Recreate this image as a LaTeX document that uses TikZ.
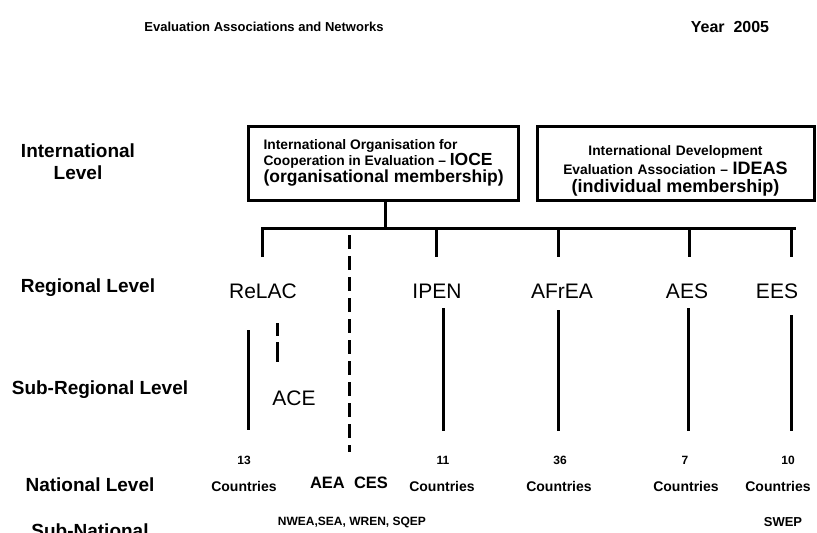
\documentclass[tikz,border=0pt]{standalone}
\usepackage{fontspec}
\setmainfont{Liberation Sans}
\usetikzlibrary{positioning}
\tikzset{
  line/.style={line width=3pt},
  dline/.style={line width=3pt,dash pattern=on 14pt off 7pt},
}
\lineskiplimit=-20pt\relax

\begin{document}
\begin{tikzpicture}[x=1pt,y=-1pt,
    lvl/.style={font=\fontsize{19}{22}\selectfont\bfseries,align=center},
    reg/.style={font=\fontsize{21}{24}\selectfont},
    cnt/.style={font=\fontsize{14}{16}\selectfont\bfseries},
    num/.style={font=\fontsize{12}{14}\selectfont\bfseries},
    orgbox/.style={draw,line width=3pt,rectangle,minimum height=74pt,inner ysep=0pt}]

    \useasboundingbox (0,0) rectangle (817,533);

    % titles
    \node[font=\fontsize{13}{15}\selectfont\bfseries] (title) at (264,27) {Evaluation Associations and Networks};
    \node[font=\fontsize{16}{18}\selectfont\bfseries] (year) at (730,27) {Year\ \ 2005};

    % levels
    \node[lvl] (lvl0) at (78,162) {International\\Level};
    \node[lvl] (lvl1) at (88,288) {Regional Level};
    \node[lvl] (lvl2) at (100,390) {Sub-Regional Level};
    \node[lvl] (lvl3) at (90,485) {National Level};
    \node[lvl] (lvl4) at (90,531) {Sub-National};

    % international bodies
    \node[orgbox,anchor=west,inner xsep=15pt,align=left,text depth=5pt,
      font=\fontsize{13.8}{16.5}\selectfont\bfseries] (org0) at (247,163)
      {International Organisation for\\Cooperation in Evaluation -- {\fontsize{17.5}{16.5}\selectfont IOCE}\\{\fontsize{17.5}{16.5}\selectfont (organisational membership)}};
    \node[orgbox,minimum width=277pt,text width=260pt,align=center,text depth=26pt,
      font=\fontsize{13.8}{18.5}\selectfont\bfseries] (org1) at (675.5,163.5)
      {International Development\\Evaluation Association -- {\fontsize{18}{18.5}\selectfont IDEAS}\\{\fontsize{18}{18.5}\selectfont (individual membership)}};

    % regional bodies
    \node[reg] (reg0) at (263,291) {ReLAC};
    \node[reg] (reg1) at (437,291) {IPEN};
    \node[reg] (reg2) at (562,291) {AFrEA};
    \node[reg] (reg3) at (687,291) {AES};
    \node[reg] (reg4) at (777,291) {EES};
    \node[reg] (ace) at (294,398) {ACE};

    % national
    \node[num] (num0) at (244,460) {13};
    \node[num] (num1) at (443,460) {11};
    \node[num] (num2) at (560,460) {36};
    \node[num] (num3) at (685,460) {7};
    \node[num] (num4) at (788,460) {10};
    \node[cnt] (cty0) at (244,486) {Countries};
    \node[cnt] (cty1) at (442,486) {Countries};
    \node[cnt] (cty2) at (559,486) {Countries};
    \node[cnt] (cty3) at (686,486) {Countries};
    \node[cnt] (cty4) at (778,486) {Countries};
    \node[font=\fontsize{16.5}{18}\selectfont\bfseries] (aea) at (349,483) {AEA\ \ CES};

    % sub-national
    \node[font=\fontsize{12}{14}\selectfont\bfseries] (sub0) at (352,522) {NWEA,SEA, WREN, SQEP};
    \node[font=\fontsize{13}{15}\selectfont\bfseries] (sub1) at (783,522) {SWEP};

    % tree
    \coordinate (s0) at (385,228);
    \coordinate (b1) at (436,228);
    \coordinate (b2) at (558,228);
    \coordinate (b3) at (689,228);
    \coordinate (b4) at (791,228);
    \coordinate (bend) at (796,228);
    \coordinate (t0) at (262,257);
    \coordinate (t1) at (436,257);
    \coordinate (t2) at (558,257);
    \coordinate (t3) at (689,257);
    \coordinate (t4) at (791,257);

    \draw[line] (s0 |- org0.south) -- (s0);
    \draw[line] (t0) |- (bend);
    \draw[line] (b1) -- (t1);
    \draw[line] (b2) -- (t2);
    \draw[line] (b3) -- (t3);
    \draw[line] (b4) -- (t4);

    % country lines
    \coordinate (v0) at (248,330); \coordinate (w0) at (248,430);
    \coordinate (v1) at (443,308); \coordinate (w1) at (443,431);
    \coordinate (v2) at (558,310); \coordinate (w2) at (558,431);
    \coordinate (v3) at (688,308); \coordinate (w3) at (688,431);
    \coordinate (v4) at (791,315); \coordinate (w4) at (791,431);
    \draw[line] (v0) -- (w0);
    \draw[line] (v1) -- (w1);
    \draw[line] (v2) -- (w2);
    \draw[line] (v3) -- (w3);
    \draw[line] (v4) -- (w4);

    % dashed links
    \coordinate (d0) at (349,235); \coordinate (d1) at (349,452);
    \coordinate (e0) at (277,323); \coordinate (e1) at (277,362);
    \draw[dline] (d0) -- (d1);
    \draw[line,dash pattern=on 13pt off 6pt on 20pt off 6pt] (e0) -- (e1);

\end{tikzpicture}
\end{document}
